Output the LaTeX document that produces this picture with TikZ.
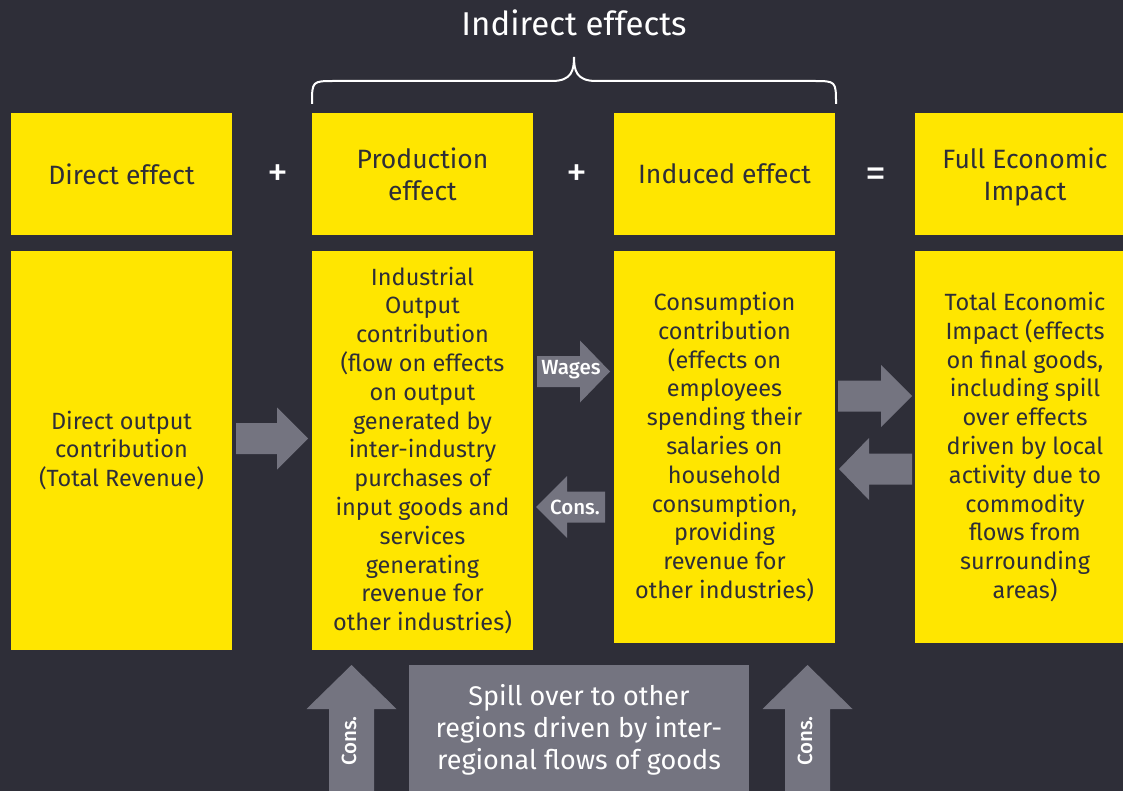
\documentclass[tikz,border=0pt]{standalone}
\usepackage{fontspec}
\setmainfont{Fira Sans}
\newfontfamily\medfont{Fira Sans Medium}
\definecolor{eyyellow}{HTML}{FFE600}
\definecolor{eydark}{HTML}{2E2E38}
\definecolor{eygrey}{HTML}{747480}

\begin{document}
\begin{tikzpicture}[x=1pt,y=-1pt,
    headbox/.style={fill=eyyellow,text=eydark,minimum width=221pt,minimum height=122pt,
        inner sep=0pt,align=center,font=\fontsize{26.5}{32}\selectfont},
    bodybox/.style={fill=eyyellow,text=eydark,minimum width=221pt,inner sep=0pt,
        align=center,font=\fontsize{23.5}{28.8}\selectfont},
    opsign/.style={text=white,inner sep=0pt,font=\fontsize{42}{42}\selectfont},
    arrowlabel/.style={text=white,inner sep=0pt,font=\medfont\fontsize{20.5}{20.5}\selectfont}]
    \useasboundingbox (0,0) rectangle (1123,791);
    \clip (0,0) rectangle (1123,791);
    \fill[eydark] (0,0) rectangle (1123,791);
    % Title and brace
    \node[text=white,inner sep=0pt,font=\fontsize{33}{33}\selectfont] (title) at (574,23) {Indirect effects};
    \draw[white,line width=2pt] (312,104) .. controls (312,81) .. (335,81) -- (552,81)
        .. controls (572,81) and (574,70) .. (574,57) .. controls (574,70) and (576,81) .. (596,81)
        -- (813,81) .. controls (836,81) .. (836,104);
    % Header row
    \node[headbox] (direct) at (121.5,174) {Direct effect};
    \node[headbox] (production) at (422.5,174) {Production\\effect};
    \node[headbox] (induced) at (724.5,174) {Induced effect};
    \node[headbox,minimum width=220pt,text depth=0pt] (full) at (1025,174) {Full Economic\\Impact};
    \node[opsign] (plusa) at (278,176) {+};
    \node[opsign] (plusb) at (577,176) {+};
    \node[opsign] (equals) at (876,178) {=};
    % Body row
    \node[bodybox,minimum height=399pt] (directbody) at (121.5,450.5)
        {Direct output\\contribution\\(Total Revenue)};
    \node[bodybox,minimum height=399pt] (prodbody) at (422.5,450.5)
        {Industrial\\Output\\contribution\\(flow on effects\\on output\\generated by\\inter-industry\\purchases of\\input goods and\\services\\generating\\revenue for\\other industries)};
    \node[bodybox,minimum height=392pt] (indbody) at (724.5,447)
        {Consumption\\contribution\\(effects on\\employees\\spending their\\salaries on\\household\\consumption,\\providing\\revenue for\\other industries)};
    \node[bodybox,minimum width=220pt,minimum height=392pt] (fullbody) at (1025,447)
        {Total Economic\\Impact (effects\\on final goods,\\including spill\\over effects\\driven by local\\activity due to\\commodity\\flows from\\surrounding\\areas)};
    % Block arrows
    \foreach \xa/\xb/\xc/\yc in {236/277/308/438.5, 537/580/610/371.5, 605/567/536/507,
                                 838/881/912/396, 912/869/839/469}
        \fill[eygrey] (\xa,\yc-15.5) -- (\xb,\yc-15.5) -- (\xb,\yc-31) -- (\xc,\yc)
            -- (\xb,\yc+31) -- (\xb,\yc+15.5) -- (\xa,\yc+15.5) -- cycle;
    \foreach \xc in {351.5,807.5}
        \fill[eygrey] (\xc-22.5,800) -- (\xc-22.5,709) -- (\xc-45,709) -- (\xc,665)
            -- (\xc+45,709) -- (\xc+22.5,709) -- (\xc+22.5,800) -- cycle;
    \node[arrowlabel] (wages) at (571,370) {Wages};
    \node[arrowlabel] (consmid) at (575,507) {Cons.};
    \node[arrowlabel,rotate=90] (consleft) at (349,741) {Cons.};
    \node[arrowlabel,rotate=90] (consright) at (805,741) {Cons.};
    % Spill over box
    \node[fill=eygrey,text=white,minimum width=340pt,minimum height=130pt,inner sep=0pt,
        align=center,font=\fontsize{27}{32}\selectfont] (spill) at (579,730)
        {Spill over to other\\regions driven by inter-\\regional flows of goods};
\end{tikzpicture}
\end{document}
